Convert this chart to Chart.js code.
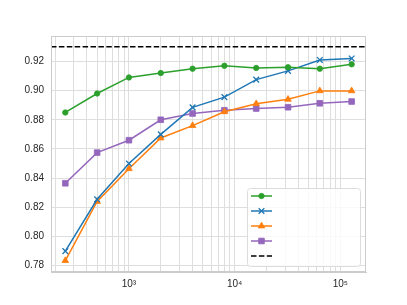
<!DOCTYPE html>
<html>
<head>
<meta charset="utf-8">
<script src="https://cdn.jsdelivr.net/npm/chart.js@4/dist/chart.umd.min.js"></script>
<style>
  html, body { margin: 0; padding: 0; background: #fff; overflow: hidden; }
</style>
</head>
<body>
<canvas id="accChart" width="407" height="305"></canvas>
<script>
// training set sizes (log x axis)
const sizes = [250, 500, 1000, 2000, 4000, 8000, 16000, 32000, 64000, 128000];
const greenVals = [0.885, 0.898, 0.909, 0.912, 0.915, 0.917, 0.9155, 0.916, 0.915, 0.918];
const blueVals = [0.790, 0.8255, 0.850, 0.870, 0.8885, 0.8955, 0.9075, 0.9135, 0.921, 0.922];
const orangeVals = [0.7835, 0.824, 0.8465, 0.8675, 0.876, 0.8855, 0.891, 0.894, 0.8998, 0.8998];
const purpleVals = [0.8365, 0.8575, 0.866, 0.880, 0.8843, 0.8865, 0.8877, 0.8886, 0.8913, 0.8925];
const refLevel = 0.93;
const xLimits = [183, 175000];
const yLimits = [0.7757, 0.9374];
const yTicks = [0.78, 0.80, 0.82, 0.84, 0.86, 0.88, 0.90, 0.92];
const xDecades = [100, 1000, 10000, 100000];
const xPowerLabels = { 1000: '10\u00B3', 10000: '10\u2074', 100000: '10\u2075' };

const toPoints = vals => vals.map((v, i) => ({ x: sizes[i], y: v }));

Chart.defaults.font.family = "'Liberation Sans', Arial, sans-serif";
Chart.defaults.font.size = 10;
Chart.defaults.color = '#262626';

// legend drawn inside the plot, lower right, like matplotlib's
const insideLegend = {
  id: 'insideLegend',
  afterDraw(chart) {
    const ctx = chart.ctx;
    const area = chart.chartArea;
    const w = 113, h = 78;
    const x0 = area.right - 6 - w;
    const y0 = area.bottom - 6 - h;
    ctx.save();
    ctx.beginPath();
    ctx.roundRect(x0 + 0.5, y0 + 0.5, w, h, 3);
    ctx.fillStyle = 'rgba(255,255,255,0.8)';
    ctx.fill();
    ctx.strokeStyle = '#dcdcdc';
    ctx.lineWidth = 1;
    ctx.stroke();
    chart.data.datasets.forEach((ds, i) => {
      const cy = y0 + 8 + i * 15;
      ctx.beginPath();
      ctx.setLineDash(ds.borderDash || []);
      ctx.strokeStyle = ds.borderColor;
      ctx.lineWidth = ds.borderWidth;
      ctx.moveTo(x0 + 4, cy);
      ctx.lineTo(x0 + 25, cy);
      ctx.stroke();
      ctx.setLineDash([]);
      if (ds.pointRadius > 0) {
        ctx.fillStyle = ds.backgroundColor;
        ctx.strokeStyle = ds.borderColor;
        ctx.lineWidth = ds.pointBorderWidth;
        Chart.helpers.drawPoint(ctx, {
          pointStyle: ds.pointStyle,
          radius: ds.pointRadius,
          borderWidth: ds.pointBorderWidth,
          rotation: 0
        }, x0 + 14.5, cy);
      }
    });
    ctx.restore();
  }
};

function series(vals, color, style, radius, bw) {
  return {
    label: '',
    data: toPoints(vals),
    borderColor: color,
    backgroundColor: color,
    borderWidth: 1.5,
    pointStyle: style,
    pointRadius: radius,
    pointHoverRadius: radius,
    pointBorderWidth: bw,
    tension: 0
  };
}

new Chart(document.getElementById('accChart'), {
  type: 'line',
  data: {
    datasets: [
      series(greenVals, '#2ca02c', 'circle', 2.7, 0.8),
      series(blueVals, '#1f77b4', 'crossRot', 4, 1.3),
      series(orangeVals, '#ff7f0e', 'triangle', 3.8, 0.8),
      series(purpleVals, '#9467bd', 'rect', 4, 0.8),
      {
        label: '',
        data: [{ x: xLimits[0], y: refLevel }, { x: xLimits[1], y: refLevel }],
        borderColor: '#000000',
        backgroundColor: '#000000',
        borderWidth: 1.5,
        borderDash: [5.5, 2.4],
        pointRadius: 0
      }
    ]
  },
  options: {
    responsive: false,
    animation: false,
    events: [],
    layout: { padding: { left: 0, top: 36, right: 41, bottom: 0 } },
    plugins: {
      legend: { display: false },
      tooltip: { enabled: false }
    },
    scales: {
      x: {
        type: 'logarithmic',
        min: xLimits[0],
        max: xLimits[1],
        afterBuildTicks: scale => {
          const ticks = [];
          xDecades.forEach(d => {
            for (let k = 1; k <= 9; k++) {
              const v = d * k;
              if (v >= xLimits[0] && v <= xLimits[1]) ticks.push({ value: v });
            }
          });
          scale.ticks = ticks;
        },
        afterFit: scale => { scale.height = 33; },
        ticks: {
          autoSkip: false,
          maxRotation: 0,
          padding: 6,
          font: { size: 10 },
          callback: v => xPowerLabels[v] || ''
        },
        grid: { color: '#dedede', lineWidth: 1, drawTicks: false },
        border: { color: '#cccccc', width: 1 }
      },
      y: {
        min: yLimits[0],
        max: yLimits[1],
        afterBuildTicks: scale => {
          scale.ticks = yTicks.map(v => ({ value: v }));
        },
        afterFit: scale => { scale.width = 51; },
        ticks: {
          padding: 7,
          callback: v => v.toFixed(2)
        },
        grid: { color: '#dedede', lineWidth: 1, drawTicks: false },
        border: { color: '#cccccc', width: 1 }
      }
    }
  },
  plugins: [insideLegend, {
    id: 'frame',
    afterDatasetsDraw(chart) {
      const { ctx, chartArea: a } = chart;
      ctx.save();
      ctx.strokeStyle = '#cccccc';
      ctx.lineWidth = 1;
      ctx.strokeRect(a.left + 0.5, a.top + 0.5, a.right - a.left - 1, a.bottom - a.top - 1);
      ctx.restore();
    }
  }]
});
</script>
</body>
</html>
